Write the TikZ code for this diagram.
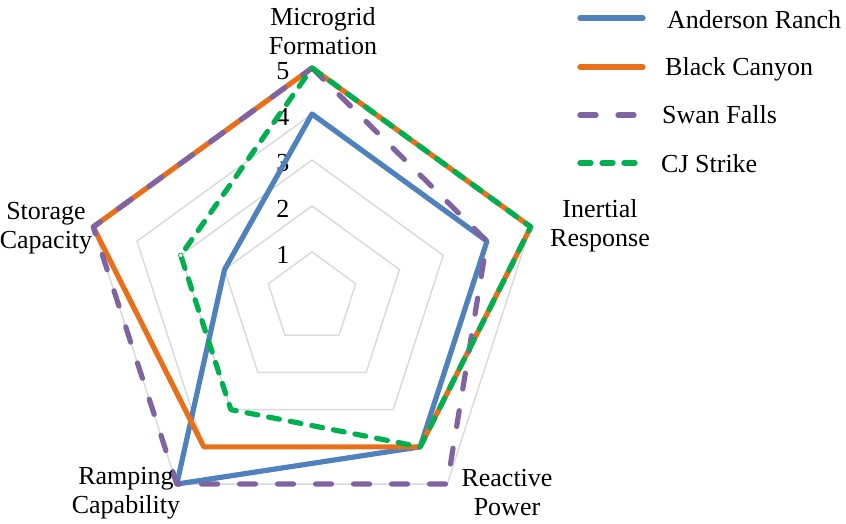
\documentclass[tikz,border=0pt]{standalone}
\usepackage{fontspec}
\setmainfont{Liberation Serif}
\definecolor{gridgray}{HTML}{D9D9D9}
\definecolor{serblue}{HTML}{4F81BD}
\definecolor{serorange}{HTML}{E8701A}
\definecolor{serpurple}{HTML}{8064A2}
\definecolor{sergreen}{HTML}{00B050}
\begin{document}
\begin{tikzpicture}[x=1pt,y=1pt,
  gridline/.style={draw=gridgray, line width=1.4pt},
  series/.style={line width=5.2pt, line join=round, line cap=round},
  ser1/.style={series, draw=serblue},
  ser2/.style={series, draw=serorange},
  ser3/.style={series, draw=serpurple, dash pattern=on 16pt off 22pt},
  ser4/.style={series, draw=sergreen, dash pattern=on 11pt off 11pt},
  lab/.style={font=\fontsize{26}{29}\selectfont, align=center, inner sep=0pt},
  num/.style={font=\fontsize{26}{29}\selectfont, inner sep=0pt},
  leg/.style={font=\fontsize{26}{29}\selectfont, inner sep=0pt, anchor=base west}]
\useasboundingbox (-312,-226) rectangle (534,298);
% grid
\foreach \k in {1,...,5}
  \draw[gridline] (90:{46*\k}) -- (18:{46*\k}) -- (-54:{46*\k}) -- (-126:{46*\k}) -- (162:{46*\k}) -- cycle;
% scale numbers
\foreach \k in {1,...,5}
  \node[num] (n\k) at (-29,{46*\k-3}) {\k};
% series
\draw[ser1] (90:184) -- (18:184) -- (-54:184) -- (-126:230) -- (162:92) -- cycle;
\draw[ser2] (90:230) -- (18:230) -- (-54:184) -- (-126:184) -- (162:230) -- cycle;
\draw[ser3] (90:230) -- (18:184) -- (-54:230) -- (-126:230) -- (162:230) -- cycle;
\draw[ser4] (90:230) -- (18:230) -- (-54:184) -- (-126:138) -- (162:138) -- cycle;
\node[circle, draw=sergreen, fill=white, line width=0.8pt, inner sep=0pt, minimum size=4.5pt] (mk) at (162:138) {};
% axis labels
\node[lab] (a1) at (11,267) {Microgrid\\Formation};
\node[lab] (a2) at (288,72) {Inertial\\Response};
\node[lab] (a3) at (195,-195) {Reactive\\Power};
\node[lab] (a4) at (-186,-195) {Ramping\\Capability};
\node[lab] (a5) at (-266,70) {Storage\\Capacity};
% legend
\coordinate (l1a) at (268,280); \coordinate (l1b) at (331,280);
\coordinate (l2a) at (268,231); \coordinate (l2b) at (331,231);
\coordinate (l3a) at (268,183); \coordinate (l3b) at (331,183);
\coordinate (l4a) at (268,135); \coordinate (l4b) at (331,135);
\draw[ser1] (l1a) -- (l1b);
\draw[ser2] (l2a) -- (l2b);
\draw[ser3] (l3a) -- (l3b);
\draw[ser4] (l4a) -- (l4b);
\node[leg] (t1) at (355,269) {Anderson Ranch};
\node[leg] (t2) at (353,222) {Black Canyon};
\node[leg] (t3) at (350,174) {Swan Falls};
\node[leg] (t4) at (349,125) {CJ Strike};
\end{tikzpicture}
\end{document}
